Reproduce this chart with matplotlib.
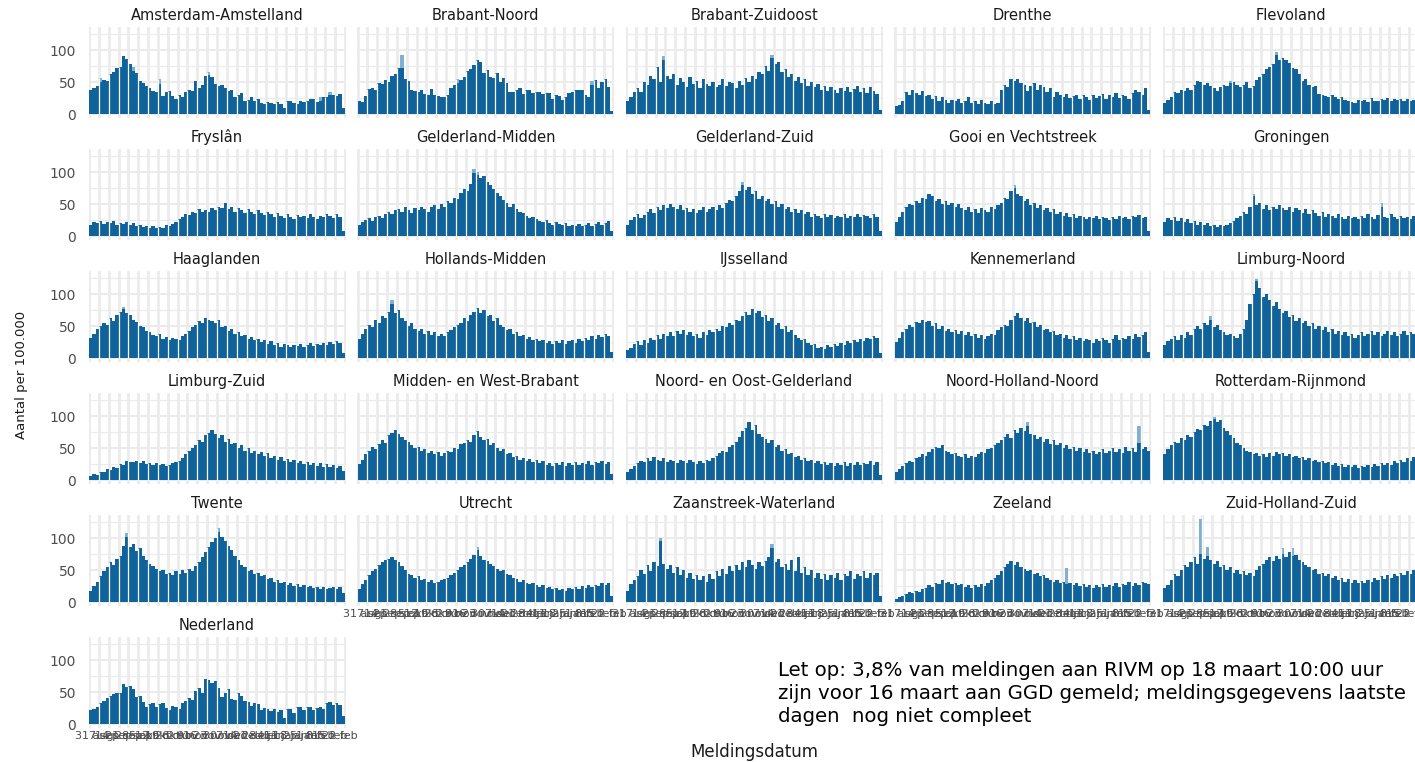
import matplotlib.pyplot as plt
import numpy as np

W, H = 1415, 762

# weekly tick labels (overlap heavily, as in the original)
week_labels = ["31 aug", "7 sep", "14 sep", "21 sep", "28 sep", "5 okt", "12 okt",
               "19 okt", "26 okt", "2 nov", "9 nov", "16 nov", "23 nov", "30 nov",
               "7 dec", "14 dec", "21 dec", "28 dec", "4 jan", "11 jan", "18 jan",
               "25 jan", "1 feb", "8 feb", "15 feb", "22 feb"]

amsterdam = [37, 40, 44, 50, 53, 52, 62, 66, 72, 74, 91, 86, 78,
             67, 64, 52, 48, 44, 40, 36, 35, 47, 28, 34, 36, 28,
             24, 30, 27, 35, 38, 36, 52, 40, 46, 60, 61, 58, 47,
             44, 45, 40, 36, 38, 27, 30, 33, 21, 22, 27, 20, 24,
             18, 16, 19, 17, 16, 19, 16, 10, 20, 21, 17, 16, 20,
             19, 21, 23, 24, 19, 21, 27, 26, 29, 30, 28, 32, 9]
brabant_noord = [21, 19, 28, 39, 40, 38, 49, 47, 53, 50, 59, 62, 72,
                 72, 55, 51, 38, 36, 34, 38, 32, 30, 39, 30, 28, 27,
                 27, 30, 40, 45, 49, 53, 58, 67, 70, 76, 84, 81, 64,
                 69, 58, 56, 64, 50, 56, 48, 35, 34, 38, 41, 32, 37,
                 37, 33, 34, 34, 32, 33, 33, 23, 30, 28, 22, 26, 33,
                 35, 37, 37, 38, 30, 27, 45, 53, 41, 50, 54, 43, 5]
brabant_zo = [20, 26, 35, 41, 34, 50, 46, 60, 55, 74, 50, 84, 60,
              54, 62, 46, 56, 50, 43, 58, 47, 52, 40, 54, 47, 44,
              50, 42, 46, 55, 44, 50, 48, 40, 52, 46, 56, 50, 60,
              55, 66, 62, 75, 68, 88, 78, 82, 65, 70, 58, 62, 52,
              58, 48, 54, 44, 50, 42, 47, 38, 44, 36, 42, 38, 33,
              40, 36, 43, 34, 39, 44, 35, 40, 33, 42, 36, 31, 6]
drenthe = [12, 14, 20, 35, 30, 38, 33, 30, 36, 28, 30, 24, 28,
           20, 27, 22, 18, 22, 20, 24, 17, 20, 26, 18, 20, 15,
           22, 18, 16, 20, 15, 18, 38, 45, 42, 55, 52, 54, 48,
           46, 36, 44, 48, 38, 45, 42, 35, 40, 26, 34, 30, 27,
           32, 25, 28, 30, 24, 29, 27, 22, 30, 25, 28, 32, 24,
           29, 26, 33, 25, 30, 28, 24, 33, 38, 34, 30, 40, 6]
flevoland = [18, 22, 26, 35, 33, 38, 36, 40, 38, 46, 52, 50, 45,
             48, 44, 40, 36, 42, 46, 44, 48, 50, 45, 42, 46, 50,
             40, 44, 53, 58, 62, 70, 74, 78, 92, 85, 88, 84, 80,
             72, 70, 62, 52, 55, 46, 42, 44, 32, 30, 28, 26, 30,
             27, 24, 26, 22, 20, 19, 18, 22, 20, 22, 19, 25, 21,
             20, 24, 22, 25, 21, 24, 22, 23, 20, 24, 21, 22, 20]
fryslan = [18, 22, 20, 24, 19, 22, 20, 23, 18, 21, 19, 22, 17,
           20, 15, 18, 14, 16, 13, 15, 12, 14, 13, 17, 15, 19,
           22, 26, 30, 35, 33, 38, 36, 42, 38, 40, 37, 44, 40,
           46, 44, 52, 42, 45, 38, 44, 40, 36, 42, 38, 34, 40,
           36, 33, 38, 35, 30, 36, 32, 28, 34, 30, 27, 33, 29,
           32, 28, 34, 30, 26, 32, 29, 35, 31, 28, 34, 30, 8]
gelderland_midden = [18, 22, 25, 28, 24, 30, 32, 28, 34, 38, 35, 40, 42,
                     38, 45, 40, 36, 44, 40, 46, 42, 38, 45, 48, 42, 50,
                     46, 55, 52, 60, 58, 68, 74, 70, 82, 98, 96, 90, 94,
                     85, 80, 74, 68, 62, 56, 52, 46, 50, 42, 38, 36, 32,
                     28, 30, 26, 24, 22, 25, 20, 18, 22, 19, 17, 20, 15,
                     18, 16, 19, 15, 17, 20, 16, 19, 22, 18, 21, 24, 8]
gelderland_zuid = [18, 25, 30, 35, 28, 33, 38, 42, 36, 45, 40, 48, 44,
                   50, 46, 42, 48, 40, 44, 38, 42, 36, 40, 45, 38, 42,
                   46, 40, 48, 44, 52, 56, 54, 62, 70, 80, 72, 76, 66,
                   70, 58, 62, 54, 58, 50, 54, 45, 50, 42, 46, 38, 42,
                   36, 40, 34, 38, 30, 35, 32, 28, 34, 30, 33, 28, 32,
                   30, 34, 28, 32, 30, 35, 29, 33, 31, 28, 34, 30, 8]
gooi = [22, 30, 38, 45, 50, 48, 55, 52, 60, 58, 66, 62, 55,
        58, 50, 54, 48, 52, 45, 50, 44, 40, 46, 38, 42, 36,
        44, 40, 38, 45, 42, 48, 52, 60, 58, 70, 75, 66, 62,
        55, 58, 48, 52, 44, 48, 40, 44, 38, 42, 35, 38, 32,
        36, 30, 34, 28, 32, 30, 26, 30, 28, 32, 26, 30, 28,
        25, 30, 27, 32, 28, 30, 26, 31, 29, 33, 28, 30, 8]
groningen = [22, 28, 25, 30, 24, 28, 22, 26, 20, 24, 18, 22, 17,
             20, 15, 18, 14, 17, 15, 18, 20, 24, 28, 32, 38, 35,
             45, 62, 48, 52, 42, 48, 40, 46, 42, 48, 44, 40, 46,
             38, 44, 40, 36, 42, 34, 40, 36, 32, 38, 30, 35, 32,
             28, 34, 30, 26, 32, 28, 30, 26, 32, 28, 34, 30, 26,
             33, 45, 30, 28, 34, 30, 26, 32, 28, 30, 26, 32, 28]
haaglanden = [32, 38, 45, 50, 55, 52, 62, 58, 68, 72, 76, 70, 68,
              60, 56, 50, 48, 42, 40, 36, 34, 38, 30, 33, 28, 32,
              30, 28, 34, 38, 42, 48, 52, 58, 55, 62, 60, 58, 55,
              60, 48, 50, 42, 45, 38, 40, 34, 36, 30, 33, 28, 30,
              25, 28, 22, 26, 20, 24, 18, 22, 20, 17, 21, 19, 22,
              18, 20, 24, 19, 22, 20, 24, 21, 25, 22, 26, 23, 8]
hollands_midden = [30, 38, 45, 52, 48, 60, 55, 65, 62, 72, 85, 70, 75,
                   62, 58, 50, 55, 46, 42, 45, 38, 42, 36, 40, 34, 38,
                   35, 40, 44, 48, 52, 55, 62, 58, 68, 72, 78, 70, 75,
                   66, 68, 58, 62, 52, 48, 44, 46, 38, 40, 34, 36, 30,
                   33, 28, 30, 26, 28, 24, 27, 22, 26, 24, 28, 22, 26,
                   28, 24, 30, 27, 32, 28, 34, 30, 36, 33, 38, 35, 10]
ijsselland = [12, 16, 22, 26, 20, 28, 24, 32, 28, 36, 30, 38, 34,
              40, 35, 42, 38, 44, 36, 40, 34, 38, 32, 40, 36, 44,
              40, 46, 42, 50, 48, 55, 52, 60, 58, 66, 72, 68, 76,
              70, 74, 64, 68, 58, 62, 52, 55, 46, 50, 40, 44, 36,
              32, 28, 30, 24, 20, 22, 16, 18, 14, 20, 17, 22, 19,
              24, 21, 26, 23, 28, 25, 30, 27, 32, 29, 34, 31, 8]
kennemerland = [25, 32, 40, 46, 52, 48, 56, 54, 60, 56, 58, 50, 54,
                46, 50, 42, 46, 40, 44, 38, 42, 36, 40, 34, 38, 32,
                36, 30, 34, 38, 36, 44, 48, 52, 50, 60, 66, 70, 62,
                58, 62, 54, 56, 48, 52, 44, 46, 40, 42, 36, 38, 32,
                36, 30, 34, 28, 32, 26, 30, 28, 24, 30, 27, 32, 28,
                24, 30, 36, 28, 32, 29, 34, 30, 38, 33, 36, 40, 10]
limburg_noord = [20, 26, 30, 34, 28, 36, 32, 40, 36, 45, 50, 46, 55,
                 52, 60, 48, 52, 44, 40, 36, 38, 34, 32, 38, 45, 60,
                 85, 100, 120, 110, 96, 100, 90, 82, 88, 76, 70, 74, 64,
                 68, 58, 62, 54, 58, 50, 54, 46, 50, 44, 48, 40, 45,
                 38, 42, 36, 40, 34, 38, 32, 36, 40, 34, 38, 42, 36,
                 40, 34, 38, 42, 36, 40, 35, 38, 42, 36, 40, 38, 36]
limburg_zuid = [6, 9, 8, 13, 12, 17, 15, 20, 19, 25, 23, 30, 28,
                28, 30, 27, 29, 25, 27, 24, 26, 23, 25, 22, 24, 26,
                28, 30, 35, 40, 45, 50, 55, 62, 60, 70, 74, 78, 72,
                66, 70, 60, 64, 56, 58, 50, 54, 46, 50, 42, 46, 40,
                44, 38, 42, 35, 38, 32, 36, 30, 33, 28, 32, 26, 30,
                25, 28, 24, 27, 22, 26, 21, 25, 20, 24, 19, 22, 14]
mw_brabant = [25, 32, 40, 45, 52, 48, 56, 62, 58, 70, 74, 78, 72,
              68, 62, 60, 54, 50, 52, 46, 48, 42, 46, 40, 44, 38,
              42, 46, 44, 50, 48, 56, 58, 62, 60, 70, 76, 68, 62,
              64, 55, 58, 50, 46, 48, 40, 42, 36, 38, 32, 35, 30,
              33, 28, 31, 26, 29, 24, 27, 22, 26, 24, 28, 22, 26,
              24, 28, 23, 27, 25, 29, 24, 28, 26, 30, 25, 28, 10]
no_gelderland = [12, 18, 22, 26, 30, 28, 34, 30, 36, 32, 30, 34, 28,
                 32, 30, 27, 32, 29, 26, 31, 28, 25, 30, 27, 32, 30,
                 34, 38, 42, 46, 44, 52, 55, 60, 68, 76, 82, 90, 78,
                 86, 72, 68, 64, 58, 62, 52, 55, 46, 48, 40, 43, 36,
                 38, 32, 35, 29, 32, 27, 30, 25, 28, 23, 27, 22, 26,
                 24, 28, 22, 26, 24, 28, 23, 27, 25, 29, 24, 28, 8]
nh_noord = [12, 18, 22, 26, 30, 28, 34, 36, 40, 38, 44, 48, 52,
            50, 55, 46, 44, 40, 42, 38, 36, 40, 34, 38, 36, 40,
            44, 42, 48, 50, 55, 58, 62, 68, 72, 66, 78, 74, 82,
            76, 85, 72, 70, 64, 68, 60, 64, 56, 62, 54, 58, 50,
            55, 48, 52, 46, 50, 44, 48, 42, 46, 40, 44, 48, 42,
            46, 50, 44, 48, 42, 52, 46, 50, 44, 58, 48, 52, 45]
rotterdam = [40, 48, 55, 60, 58, 65, 62, 70, 68, 75, 80, 78, 86,
             84, 92, 95, 90, 94, 82, 76, 70, 66, 58, 55, 50, 46,
             44, 40, 42, 38, 40, 36, 42, 38, 44, 40, 42, 38, 40,
             36, 38, 34, 36, 32, 34, 30, 32, 28, 30, 26, 28, 24,
             27, 22, 25, 21, 24, 20, 23, 19, 22, 20, 24, 21, 25,
             22, 26, 23, 27, 24, 30, 26, 32, 28, 34, 30, 36, 38]
twente = [18, 25, 32, 40, 48, 55, 62, 58, 68, 72, 88, 102, 86,
          90, 80, 84, 72, 66, 60, 56, 52, 48, 50, 44, 46, 42,
          48, 44, 50, 46, 52, 48, 56, 62, 70, 78, 86, 94, 100,
          110, 102, 96, 88, 82, 72, 66, 58, 54, 48, 50, 44, 46,
          40, 42, 36, 38, 32, 34, 29, 31, 27, 29, 25, 28, 24,
          26, 23, 25, 22, 24, 21, 23, 20, 22, 24, 21, 23, 14]
utrecht = [20, 28, 35, 42, 48, 52, 58, 62, 66, 68, 70, 65, 62,
           56, 50, 44, 42, 38, 40, 34, 36, 32, 34, 30, 32, 34,
           36, 38, 42, 46, 50, 55, 58, 62, 68, 74, 82, 72, 66,
           64, 60, 56, 52, 48, 50, 44, 42, 38, 36, 32, 34, 30,
           28, 30, 26, 24, 26, 22, 24, 20, 22, 19, 21, 18, 22,
           20, 24, 21, 25, 22, 26, 23, 27, 25, 29, 27, 30, 10]
zaanstreek = [18, 28, 35, 40, 50, 44, 58, 48, 62, 56, 95, 60, 52,
              58, 46, 55, 42, 50, 38, 46, 36, 42, 34, 40, 32, 44,
              36, 48, 40, 52, 44, 56, 48, 58, 50, 62, 54, 66, 58,
              52, 62, 56, 64, 70, 85, 62, 68, 55, 60, 50, 66, 48,
              70, 45, 55, 42, 50, 38, 46, 36, 44, 34, 42, 38, 46,
              35, 44, 40, 48, 36, 44, 40, 48, 38, 45, 42, 46, 10]
zeeland = [5, 8, 10, 12, 15, 14, 18, 16, 20, 22, 26, 24, 30,
           28, 34, 30, 32, 28, 30, 26, 28, 24, 27, 22, 26, 24,
           28, 25, 30, 34, 38, 42, 48, 55, 60, 64, 58, 62, 55,
           52, 48, 50, 44, 46, 40, 42, 38, 35, 32, 34, 30, 32,
           28, 30, 26, 29, 25, 28, 24, 27, 22, 26, 24, 28, 23,
           27, 25, 30, 24, 28, 26, 31, 25, 29, 27, 32, 30, 28]
zh_zuid = [22, 26, 35, 44, 40, 50, 58, 55, 62, 70, 60, 75, 68,
           72, 66, 60, 64, 55, 58, 50, 54, 46, 50, 44, 48, 42,
           46, 40, 50, 56, 60, 66, 70, 64, 72, 68, 75, 70, 78,
           72, 74, 66, 62, 58, 54, 50, 52, 44, 46, 40, 44, 38,
           40, 34, 38, 32, 36, 30, 34, 30, 33, 29, 35, 32, 38,
           34, 40, 36, 42, 38, 44, 40, 46, 42, 48, 44, 50, 46]
nederland = [22, 24, 26, 33, 36, 40, 44, 47, 49, 48, 62, 58, 60,
             55, 42, 44, 34, 27, 32, 33, 26, 31, 33, 25, 22, 28,
             27, 23, 33, 36, 40, 38, 52, 56, 48, 70, 69, 64, 67,
             56, 43, 48, 55, 39, 38, 49, 44, 36, 34, 28, 33, 31,
             22, 25, 24, 21, 23, 19, 22, 10, 23, 24, 17, 26, 27,
             22, 27, 26, 22, 25, 27, 24, 33, 34, 30, 33, 29, 12]

regions = [
    ("Amsterdam-Amstelland", amsterdam), ("Brabant-Noord", brabant_noord),
    ("Brabant-Zuidoost", brabant_zo), ("Drenthe", drenthe), ("Flevoland", flevoland),
    ("Fryslân", fryslan), ("Gelderland-Midden", gelderland_midden),
    ("Gelderland-Zuid", gelderland_zuid), ("Gooi en Vechtstreek", gooi),
    ("Groningen", groningen), ("Haaglanden", haaglanden),
    ("Hollands-Midden", hollands_midden), ("IJsselland", ijsselland),
    ("Kennemerland", kennemerland), ("Limburg-Noord", limburg_noord),
    ("Limburg-Zuid", limburg_zuid), ("Midden- en West-Brabant", mw_brabant),
    ("Noord- en Oost-Gelderland", no_gelderland), ("Noord-Holland-Noord", nh_noord),
    ("Rotterdam-Rijnmond", rotterdam), ("Twente", twente), ("Utrecht", utrecht),
    ("Zaanstreek-Waterland", zaanstreek), ("Zeeland", zeeland),
    ("Zuid-Holland-Zuid", zh_zuid), ("Nederland", nederland),
]

# lighter part on top of some bars: {bar index: extra}
late = {
    "Amsterdam-Amstelland": {3: 6, 13: 6, 21: 7, 36: 5, 70: 6, 73: 5},
    "Brabant-Noord": {13: 21, 30: 6, 71: 6},
    "Brabant-Zuidoost": {11: 6, 44: 4},
    "Flevoland": {20: 4, 34: 5},
    "Gelderland-Midden": {35: 6, 36: 4},
    "Gelderland-Zuid": {35: 4},
    "Gooi en Vechtstreek": {36: 4},
    "Groningen": {27: 4, 66: 6},
    "Haaglanden": {10: 4},
    "Hollands-Midden": {10: 5},
    "Limburg-Noord": {14: 5, 28: 4},
    "Noord-Holland-Noord": {40: 5, 74: 27},
    "Rotterdam-Rijnmond": {15: 4},
    "Twente": {11: 6, 39: 5},
    "Utrecht": {36: 4},
    "Zaanstreek-Waterland": {10: 5, 44: 5},
    "Zeeland": {52: 25},
    "Zuid-Holland-Zuid": {11: 55, 13: 14, 36: 10, 39: 12},
}

dark = '#0f639a'
light = '#7fb1d2'
grid = '#ebebeb'
txt = '#4d4d4d'

fig = plt.figure(figsize=(W / 100, H / 100), dpi=100)

for k, (name, vals) in enumerate(regions):
    r, c = divmod(k, 5)
    zero_y = 114 + 122 * r
    left = 88.5 + 268.5 * c
    ax = fig.add_axes([left / W, 1 - (zero_y + 4.2) / H, 257 / W, 91.5 / H])
    ax.set_facecolor('white')
    x = np.arange(len(vals))
    extra = [late.get(name, {}).get(i, 0) for i in x]
    tops = np.array(vals) + np.array(extra)

    # ggplot-like grid: gray lines on white
    for yv in range(0, 126, 25):
        ax.axhline(yv, color=grid, lw=1.4 if yv % 50 == 0 else 0.9, zorder=0)
    for wk in range(len(week_labels) + 1):
        ax.axvline(3 * wk - 0.5, color=grid, lw=2.0, zorder=0)

    ax.bar(x, vals, width=1.0, color=dark, linewidth=0, zorder=2)
    ax.bar(x, extra, bottom=vals, width=1.0, color=light, linewidth=0, zorder=2)
    # thin white seams through the bars at the week breaks
    seam_x = [3 * wk - 0.5 for wk in range(1, len(week_labels))]
    seam_h = [max(tops[3 * wk - 1], tops[3 * wk]) for wk in range(1, len(week_labels))]
    ax.vlines(seam_x, 0, seam_h, colors='white', lw=0.9, zorder=3)

    ax.set_xlim(-0.7, 77.7)
    ax.set_ylim(-6.5, 136.5)
    for s in ax.spines.values():
        s.set_visible(False)
    ax.tick_params(length=0, colors=txt)
    ax.set_yticks([0, 50, 100])
    if c == 0:
        ax.set_yticklabels(['0', '50', '100'], fontsize=10, color=txt)
        ax.tick_params(axis='y', pad=9)
    else:
        ax.set_yticklabels([])
    bottom_panel = (r == 5) or (r == 4 and c > 0)
    ax.set_xticks([3 * wk + 1 for wk in range(len(week_labels))])
    if bottom_panel:
        ax.set_xticklabels(week_labels, fontsize=8, color=txt)
        ax.tick_params(axis='x', pad=2)
    else:
        ax.set_xticklabels([])
    ax.set_title(name, fontsize=10.5, color='#1a1a1a', pad=5)

fig.text(22 / W, 1 - 375 / H, 'Aantal per 100.000', rotation=90,
         ha='center', va='center', fontsize=9.5, color='#1a1a1a')
fig.text(754 / W, 1 - 752 / H, 'Meldingsdatum', ha='center', va='center',
         fontsize=12, color='#1a1a1a')
fig.text(778 / W, 1 - 661 / H,
         "Let op: 3,8% van meldingen aan RIVM op 18 maart 10:00 uur\n"
         "zijn voor 16 maart aan GGD gemeld; meldingsgegevens laatste\n"
         "dagen  nog niet compleet",
         ha='left', va='top', fontsize=14.2, color='black', linespacing=1.25)

fig.savefig('out.png', dpi=100, facecolor='white')
